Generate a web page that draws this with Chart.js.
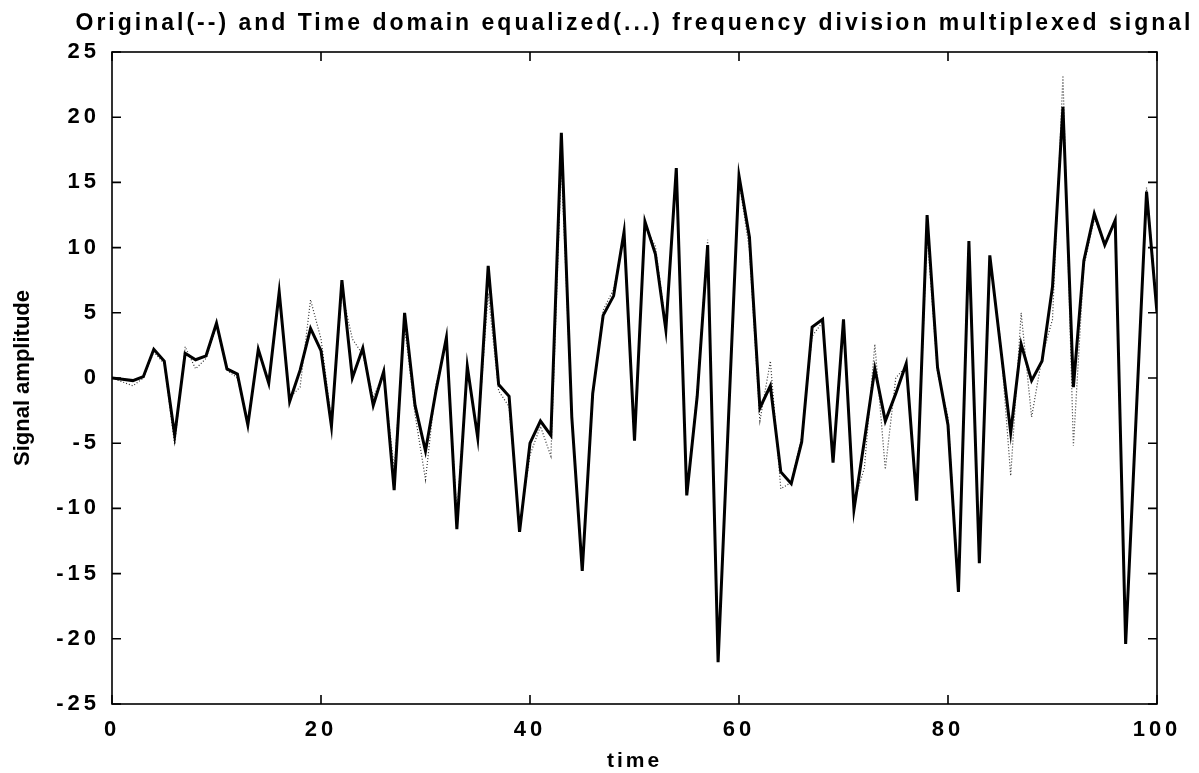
<!DOCTYPE html>
<html>
<head>
<meta charset="utf-8">
<script src="https://cdn.jsdelivr.net/npm/chart.js@4.4.0/dist/chart.umd.min.js"></script>
<style>
body{margin:0;background:#fff}
#graph_div{width:1199px;height:773px}
</style>
</head>
<body>
<div id="graph_div"><canvas id="graph" width="1199" height="773"></canvas></div>
<script>
// time samples
const time = [0,1,2,3,4,5,6,7,8,9,10,11,12,13,14,15,16,17,18,19,20,21,22,23,24,25,26,27,28,29,30,
  31,32,33,34,35,36,37,38,39,40,41,42,43,44,45,46,47,48,49,50,51,52,53,54,55,56,57,58,59,60,
  61,62,63,64,65,66,67,68,69,70,71,72,73,74,75,76,77,78,79,80,81,82,83,84,85,86,87,88,89,90,
  91,92,93,94,95,96,97,98,99,100]

// original FDM signal (solid)
const original = [0,-0.1,-0.2,0.1,2.2,1.3,-4.4,1.9,1.4,1.7,
  4.2,0.7,0.3,-3.6,2.2,-0.4,6.6,-1.8,0.6,3.8,
  2.1,-3.7,7.5,0.0,2.3,-2.1,0.5,-8.6,5.0,-2.1,
  -5.6,-1.0,3.1,-11.6,0.9,-4.6,8.6,-0.5,-1.4,-11.8,
  -5.0,-3.3,-4.4,18.8,-3.0,-14.8,-1.2,4.8,6.3,11.2,
  -4.8,12.0,9.5,3.7,16.1,-9.0,-1.4,10.2,-21.8,-3.0,
  15.5,10.8,-2.3,-0.6,-7.2,-8.1,-4.9,3.9,4.5,-6.5,
  4.5,-10.1,-4.8,0.7,-3.3,-1.2,1.1,-9.4,12.5,0.8,
  -3.6,-16.4,10.5,-14.2,9.4,2.6,-4.2,2.6,-0.2,1.3,
  7.0,20.8,-0.7,9.0,12.6,10.2,12.1,-20.4,-3.0,14.3,
  5.0]

// time domain equalized signal (dotted)
const equalized = [0,-0.3,-0.6,0.0,2.0,1.1,-5.1,2.4,0.7,1.5,
  4.0,0.6,0.0,-3.3,2.0,-0.3,6.2,-1.5,-0.7,6.0,
  3.0,-3.2,6.6,3.0,1.8,-1.5,0.3,-7.0,4.0,-2.8,
  -7.8,-0.5,2.6,-10.5,0.6,-4.4,6.5,-1.0,-2.2,-11.3,
  -5.9,-3.7,-6.0,16.5,-3.0,-14.5,-1.5,5.2,6.8,10.9,
  -4.5,11.6,10.1,3.9,15.6,-8.8,-1.0,10.6,-21.4,-3.0,
  15.2,9.8,-3.3,1.3,-8.5,-8.0,-4.5,3.2,4.3,-6.3,
  4.0,-9.5,-6.9,2.6,-7.0,0.0,0.9,-9.0,11.0,0.4,
  -3.0,-16.0,9.8,-14.0,9.0,3.0,-7.5,5.0,-3.0,1.6,
  4.5,23.2,-5.2,8.6,12.2,10.4,12.0,-20.0,-3.0,14.6,
  5.5]

const xTicks = [0,20,40,60,80,100]
const yTicks = [-25,-20,-15,-10,-5,0,5,10,15,20,25]

const titleText = 'Original(--) and Time domain equalized(...) frequency division multiplexed signal'
const xLabel = 'time'
const yLabel = 'Signal amplitude'

const FONT = '"Liberation Sans", Arial, Helvetica, sans-serif'

// matlab style box, inward ticks and the texts
const framePlugin = {
    id: 'frame',
    beforeDraw(chart){ chart.ctx.letterSpacing = '4px' },
    afterDraw(chart){
        const ctx = chart.ctx
        const a = chart.chartArea
        const x = chart.scales.x, y = chart.scales.y
        ctx.save()
        ctx.letterSpacing = '0px'
        ctx.strokeStyle = '#000'
        ctx.lineWidth = 1.6
        ctx.strokeRect(a.left, a.top, a.right - a.left, a.bottom - a.top)
        ctx.beginPath()
        x.ticks.forEach(t => {
            const px = x.getPixelForValue(t.value)
            ctx.moveTo(px, a.bottom); ctx.lineTo(px, a.bottom - 9)
            ctx.moveTo(px, a.top); ctx.lineTo(px, a.top + 9)
        })
        y.ticks.forEach(t => {
            const py = y.getPixelForValue(t.value)
            ctx.moveTo(a.left, py); ctx.lineTo(a.left + 9, py)
            ctx.moveTo(a.right, py); ctx.lineTo(a.right - 9, py)
        })
        ctx.stroke()

        const mid = (a.left + a.right) / 2
        ctx.fillStyle = '#000'
        ctx.textAlign = 'center'
        ctx.textBaseline = 'alphabetic'
        ctx.font = 'bold 23px ' + FONT
        ctx.letterSpacing = '3px'
        ctx.fillText(titleText, mid, 30)

        ctx.font = 'bold 21px ' + FONT
        ctx.fillText(xLabel, mid, 767)

        ctx.letterSpacing = '0px'
        ctx.font = 'bold 22px ' + FONT
        ctx.translate(29, (a.top + a.bottom) / 2)
        ctx.rotate(-Math.PI / 2)
        ctx.fillText(yLabel, 0, 0)
        ctx.restore()
    }
}

document.addEventListener('DOMContentLoaded', () => {
    new Chart('graph', {
        type: 'line',
        data: {
            datasets: [{
                label: 'Original',
                data: time.map((t, i) => ({x: t, y: original[i]})),
                borderColor: '#000',
                borderWidth: 3,
                pointRadius: 0,
                tension: 0,
                fill: false
            }, {
                label: 'Time domain equalized',
                data: time.map((t, i) => ({x: t, y: equalized[i]})),
                borderColor: '#333',
                borderWidth: 1.2,
                borderDash: [1, 2],
                pointRadius: 0,
                tension: 0,
                fill: false
            }]
        },
        options: {
            responsive: false,
            animation: false,
            layout: {padding: {top: 52, right: 42, left: 0, bottom: 0}},
            plugins: {
                legend: {display: false},
                title: {display: false},
                tooltip: {enabled: false}
            },
            scales: {
                x: {
                    type: 'linear',
                    min: xTicks[0],
                    max: xTicks[xTicks.length - 1],
                    afterFit: s => { s.height = 69 },
                    afterBuildTicks: s => { s.ticks = xTicks.map(v => ({value: v})) },
                    grid: {display: false, drawTicks: false},
                    border: {display: false},
                    ticks: {
                        color: '#000',
                        padding: 13,
                        maxRotation: 0,
                        font: {family: FONT, size: 22, weight: 'bold'}
                    }
                },
                y: {
                    min: yTicks[0],
                    max: yTicks[yTicks.length - 1],
                    afterFit: s => { s.width = 112 },
                    afterBuildTicks: s => { s.ticks = yTicks.map(v => ({value: v})) },
                    grid: {display: false, drawTicks: false},
                    border: {display: false},
                    ticks: {
                        color: '#000',
                        padding: 12,
                        font: {family: FONT, size: 22, weight: 'bold'}
                    }
                }
            }
        },
        plugins: [framePlugin]
    })
})
</script>
</body>
</html>
